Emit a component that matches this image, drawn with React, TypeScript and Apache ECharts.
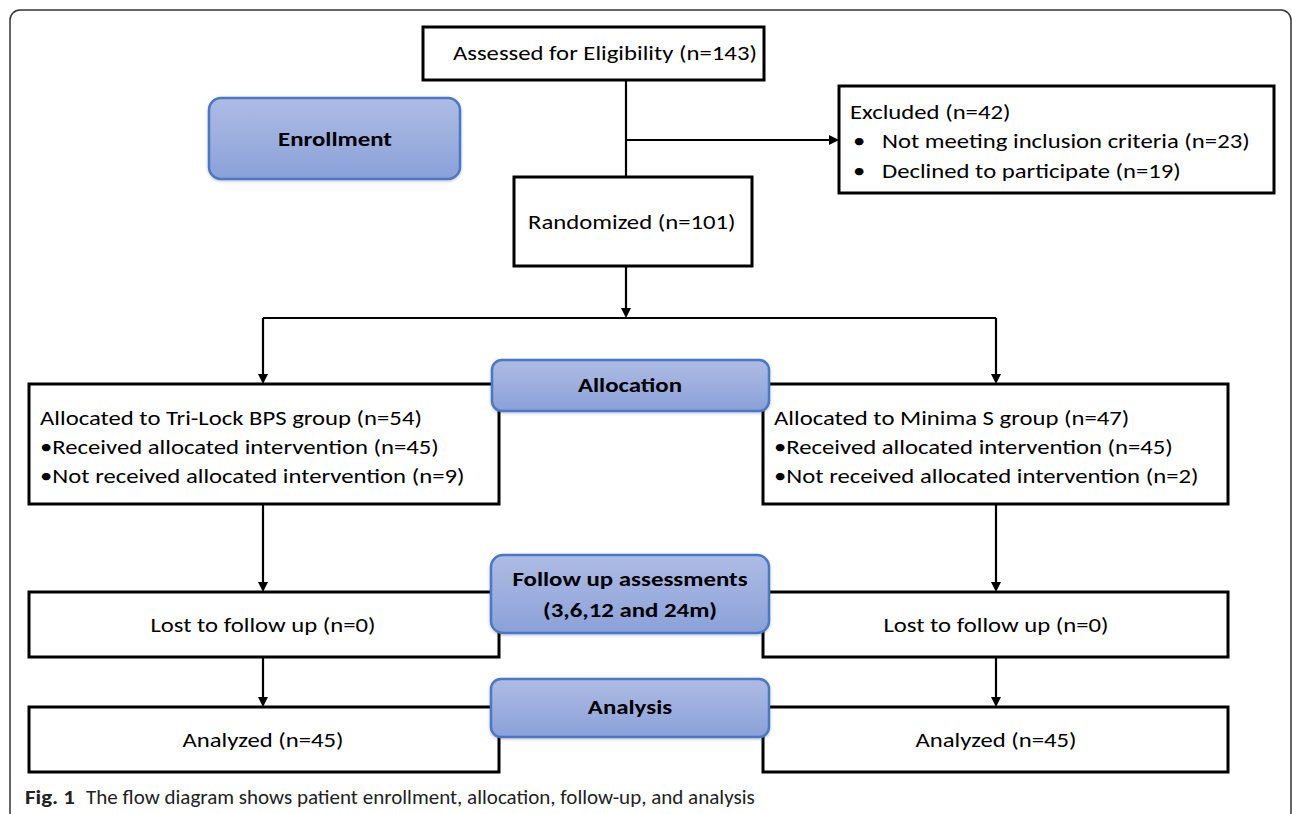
import React, { useEffect, useRef } from "react";
import * as echarts from "echarts";

// ---- data ----
const assessedCount = 143;
const excludedTotal = 42;
const excludedReasons = ["Not meeting inclusion criteria", "Declined to participate"];
const excludedCounts = [23, 19];
const randomizedCount = 101;
const groups = ["Tri-Lock BPS", "Minima S"];
const allocatedCounts = [54, 47];
const receivedCounts = [45, 45];
const notReceivedCounts = [9, 2];
const lostCounts = [0, 0];
const analyzedCounts = [45, 45];
const stageLabels = ["Enrollment", "Allocation", "Follow up assessments\n(3,6,12 and 24m)", "Analysis"];
const captionBold = "Fig. 1";
const captionText = "The flow diagram shows patient enrollment, allocation, follow-up, and analysis";

const FONT = "Carlito, Lato, 'Open Sans', sans-serif";
const FS = 21;

function measure(text: string, font: string) {
  const c = document.createElement("canvas");
  const ctx = c.getContext("2d")!;
  ctx.font = font;
  return ctx.measureText(text).width;
}

export default function App() {
  const ref = useRef<HTMLDivElement>(null);
  useEffect(() => {
    const chart = echarts.init(ref.current!, null, { renderer: "svg" });
    const sN = 304 / measure(`Assessed for Eligibility (n=${assessedCount})`, `${FS}px ${FONT}`);
    const sB = 114 / measure(stageLabels[0], `bold ${FS}px ${FONT}`);
    const els: any[] = [];
    const box = (x: number, y: number, w: number, h: number) =>
      els.push({ type: "rect", z: 10, shape: { x, y, width: w, height: h }, style: { fill: "#fff", stroke: "#000", lineWidth: 3 } });
    const blue = (x: number, y: number, w: number, h: number, r: number) =>
      els.push({
        type: "rect",
        z: 20,
        shape: { x, y, width: w, height: h, r },
        style: {
          fill: new echarts.graphic.LinearGradient(0, 0, 0, 1, [
            { offset: 0, color: "#aebce4" },
            { offset: 1, color: "#8aa1d8" },
          ]),
          stroke: "#4a78c9",
          lineWidth: 2.5,
          shadowBlur: 3,
          shadowColor: "rgba(0,0,0,0.25)",
          shadowOffsetY: 1,
        },
      });
    const line = (x1: number, y1: number, x2: number, y2: number) =>
      els.push({ type: "line", z: 5, shape: { x1, y1, x2, y2 }, style: { stroke: "#000", lineWidth: 2.2 } });
    const arrowDown = (x: number, y: number) =>
      els.push({ type: "polygon", z: 11, shape: { points: [[x - 5, y - 10], [x + 5, y - 10], [x, y]] }, style: { fill: "#000" } });
    const arrowRight = (x: number, y: number) =>
      els.push({ type: "polygon", z: 11, shape: { points: [[x - 10, y - 5], [x - 10, y + 5], [x, y]] }, style: { fill: "#000" } });
    const text = (x: number, y: number, t: string, align = "left", bold = false, lh = 30) =>
      els.push({
        type: "text",
        z: 30,
        x,
        y,
        scaleX: bold ? sB : sN,
        style: { text: t, fill: "#000", fontSize: FS, fontFamily: FONT, fontWeight: bold ? "bold" : "normal", align, verticalAlign: "middle", lineHeight: lh },
      });

    // outer frame (bottom edge lies below the visible area)
    els.push({ type: "rect", z: 1, shape: { x: 10, y: 10, width: 1281, height: 812, r: 10 }, style: { fill: "none", stroke: "#333", lineWidth: 1.5 } });

    // connectors
    line(626, 80, 626, 177);
    line(626, 140, 831, 140);
    arrowRight(839, 140);
    line(626, 266, 626, 310);
    arrowDown(626, 318);
    line(263, 318, 996, 318);
    const cols = [263, 996];
    cols.forEach((cx) => {
      line(cx, 318, cx, 376);
      arrowDown(cx, 384);
      line(cx, 504, cx, 584);
      arrowDown(cx, 592);
      line(cx, 657, cx, 699);
      arrowDown(cx, 707);
    });

    // top boxes
    box(423, 27, 341, 53);
    text(453, 53, `Assessed for Eligibility (n=${assessedCount})`);
    box(839, 86, 435, 107);
    text(850, 112, `Excluded (n=${excludedTotal})`);
    excludedReasons.forEach((r, i) => {
      text(853, 141 + i * 30, "•");
      text(882, 141 + i * 30, `${r} (n=${excludedCounts[i]})`);
    });
    box(514, 177, 238, 89);
    text(528, 222, `Randomized (n=${randomizedCount})`);

    // group boxes
    const bx = [29, 763];
    const bw = [470, 465];
    groups.forEach((g, i) => {
      box(bx[i], 384, bw[i], 120);
      text(bx[i] + 11, 418, `Allocated to ${g} group (n=${allocatedCounts[i]})`);
      text(bx[i] + 11, 447, `•Received allocated intervention (n=${receivedCounts[i]})`);
      text(bx[i] + 11, 476, `•Not received allocated intervention (n=${notReceivedCounts[i]})`);
      box(bx[i], 592, bw[i], 65);
      text(cols[i], 625, `Lost to follow up (n=${lostCounts[i]})`, "center");
      box(bx[i], 707, bw[i], 65);
      text(cols[i], 740, `Analyzed (n=${analyzedCounts[i]})`, "center");
    });

    // stage boxes
    blue(209, 98, 251, 81, 12);
    text(335, 139, stageLabels[0], "center", true);
    blue(492, 360, 277, 51, 10);
    text(630, 385, stageLabels[1], "center", true);
    blue(491, 555, 278, 78, 12);
    text(630, 594, stageLabels[2], "center", true, 31);
    blue(491, 679, 278, 58, 10);
    text(630, 707, stageLabels[3], "center", true);

    // caption
    const CF = 20;
    const wB = measure(captionBold, `bold ${CF}px ${FONT}`);
    const wR = measure(captionText, `${CF}px ${FONT}`);
    els.push({
      type: "text",
      z: 30,
      x: 25,
      y: 797,
      scaleX: 50 / wB,
      style: { text: captionBold, fill: "#222", fontSize: CF, fontWeight: "bold", fontFamily: FONT, verticalAlign: "middle" },
    });
    els.push({
      type: "text",
      z: 30,
      x: 86,
      y: 797,
      scaleX: 669 / wR,
      style: { text: captionText, fill: "#222", fontSize: CF, fontFamily: FONT, verticalAlign: "middle" },
    });

    chart.setOption({ animation: false, graphic: { elements: els } });
    return () => chart.dispose();
  }, []);
  return <div ref={ref} style={{ position: "fixed", left: 0, top: 0, width: 1292, height: 814, background: "#fff" }} />;
}
